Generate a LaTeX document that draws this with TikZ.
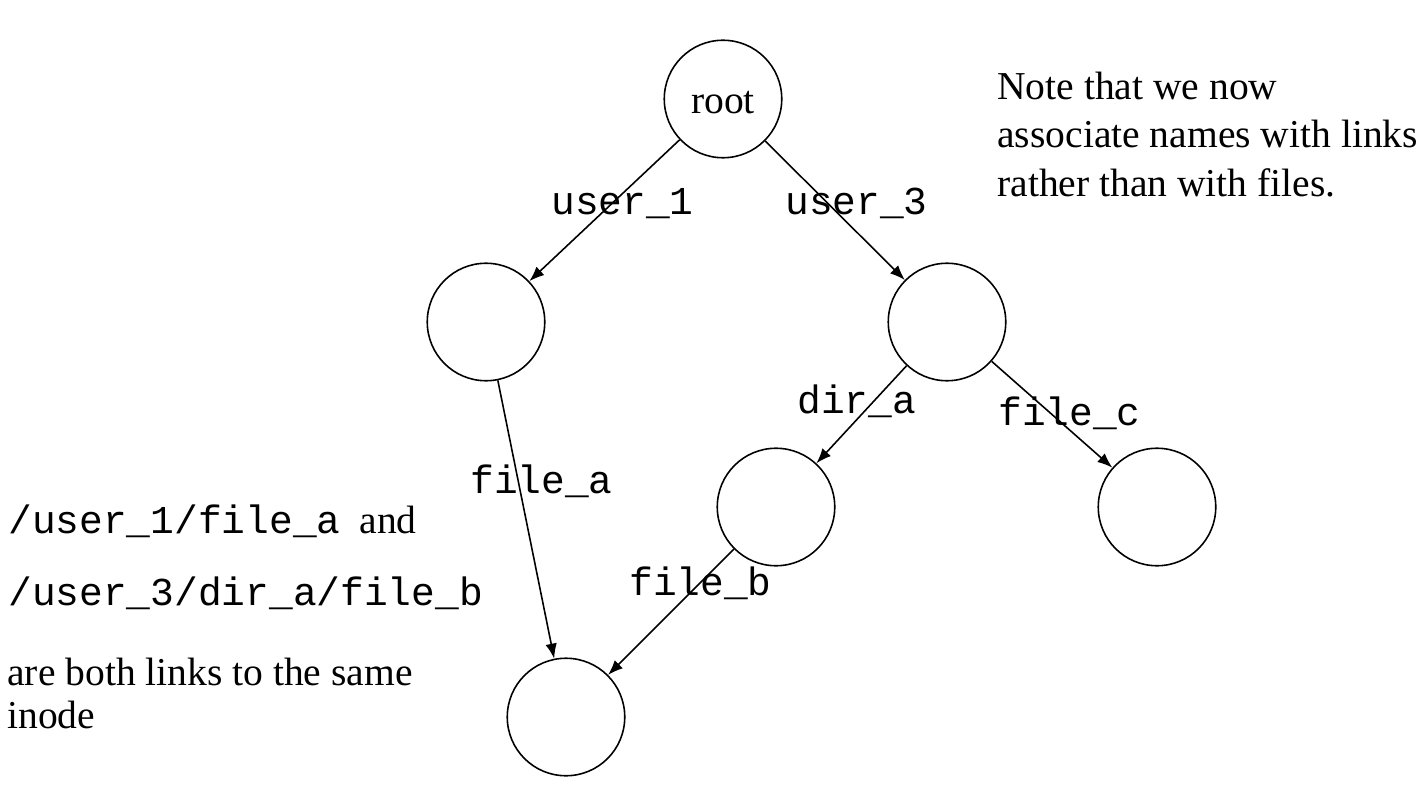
\documentclass[tikz,border=0pt]{standalone}
\usepackage{fontspec}
\setmainfont{Liberation Serif}
\setmonofont{Liberation Mono}
\usetikzlibrary{arrows.meta}
\tikzset{
	dirnode/.style={circle, draw=black, line width=0.9pt, solid, minimum size=2.35cm, inner sep=0pt},
	link/.style={draw=black, line width=0.9pt, solid, -{Latex[length=0.3cm, width=0.23cm]}},
	linkname/.style={black, anchor=base west, inner sep=0pt, font=\fontsize{22.5}{27}\selectfont\ttfamily},
	note/.style={black, anchor=base west, inner sep=0pt, font=\fontsize{22.5}{27}\selectfont}
}
\begin{document}
\begin{tikzpicture}
	\useasboundingbox (0.00,0.00) rectangle (28.56,15.84);
	\node[dirnode, font=\fontsize{22.5}{27}\selectfont, text height=0.6cm, text depth=0cm] (root) at (14.46,13.86) {root};
	\node[dirnode] (user1) at (9.72,9.40) {};
	\node[dirnode] (user3) at (18.94,9.40) {};
	\node[dirnode] (dira) at (15.52,5.70) {};
	\node[dirnode] (filec) at (23.14,5.70) {};
	\node[dirnode] (inode) at (11.32,1.50) {};
	\draw[link] (root) -- (user1);
	\draw[link] (root) -- (user3);
	\draw[link] (user1) -- (inode);
	\draw[link] (user3) -- (dira);
	\draw[link] (user3) -- (filec);
	\draw[link] (dira) -- (inode);
	\node[linkname] (nuser1) at (11.02,11.54) {user\_1};
	\node[linkname] (nuser3) at (15.70,11.54) {user\_3};
	\node[linkname] (ndira) at (15.94,7.58) {dir\_a};
	\node[linkname] (nfilec) at (19.96,7.34) {file\_c};
	\node[linkname] (nfilea) at (9.40,5.98) {file\_a};
	\node[linkname] (nfileb) at (12.58,3.94) {file\_b};
	\node[note] (note1) at (19.94,13.84) {Note that we now};
	\node[note] (note2) at (19.94,12.88) {associate names with links};
	\node[note] (note3) at (19.94,11.90) {rather than with files.};
	\node[note] (path1) at (0.16,5.18) {{\ttfamily /user\_1/file\_a}\hspace{0.38cm}and};
	\node[linkname] (path2) at (0.16,3.74) {/user\_3/dir\_a/file\_b};
	\node[note] (both1) at (0.14,2.14) {are both links to the same};
	\node[note] (both2) at (0.14,1.28) {inode};
\end{tikzpicture}
\end{document}
